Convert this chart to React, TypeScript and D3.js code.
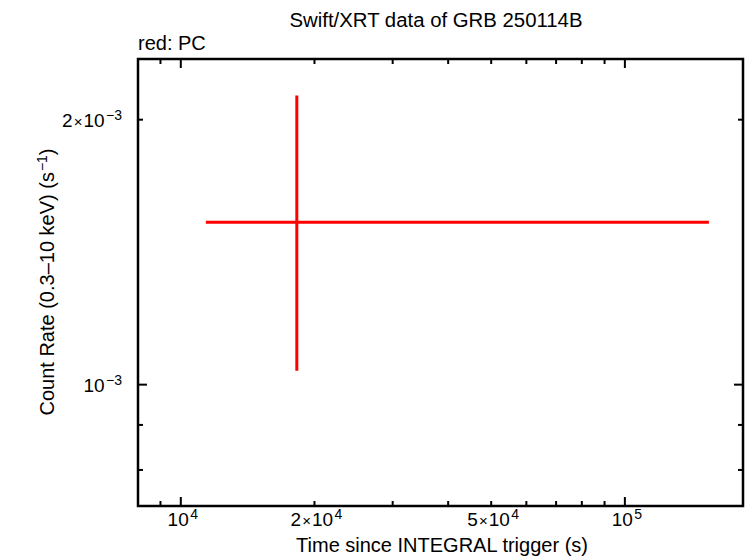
import React from "react";
import * as d3 from "d3";

const title = "Swift/XRT data of GRB 250114B";
const subtitle = "red: PC";
const xLabel = "Time since INTEGRAL trigger (s)";
const yLabel = "Count Rate (0.3\u201310 keV) (s";

// data point (PC mode)
const pcTime = [18250];
const pcTimeLo = [11385];
const pcTimeHi = [154600];
const pcRate = [1.529e-3];
const pcRateLo = [1.037e-3];
const pcRateHi = [2.13e-3];

const xDomain = [8010, 184500];
const yDomain = [7.28e-4, 2.344e-3];

const xMajor = [1e4, 1e5];
const xMinor = [9e3, 2e4, 3e4, 4e4, 5e4, 6e4, 7e4, 8e4, 9e4];
const xTickLabels = [
  { v: 1e4, m: "", e: "4" },
  { v: 2e4, m: "2", e: "4" },
  { v: 5e4, m: "5", e: "4" },
  { v: 1e5, m: "", e: "5" },
];
const yMajor = [1e-3];
const yMinor = [8e-4, 9e-4, 2e-3];
const yTickLabels = [
  { v: 2e-3, m: "2", e: "\u22123" },
  { v: 1e-3, m: "", e: "\u22123" },
];

const W = 746, H = 558;
const L = 138, R = 743, T = 59, B = 506;

function Pow({ m, e }: { m: string; e: string }) {
  return (
    <>
      {m ? <tspan>{m}</tspan> : null}
      {m ? <tspan dx={1} fontSize={15}>{"\u00d7"}</tspan> : null}
      <tspan dx={m ? 1 : 0}>10</tspan>
      <tspan fontSize={14} dx={1.5} dy={-7}>{e}</tspan>
    </>
  );
}

export default function App() {
  const x = d3.scaleLog().domain(xDomain).range([L, R]);
  const y = d3.scaleLog().domain(yDomain).range([B, T]);
  const font = "'Liberation Sans', Arial, sans-serif";
  const majLen = 9, minLen = 5;
  return (
    <svg width={W} height={H} style={{ position: "absolute", left: 0, top: 0 }} fontFamily={font}>
      <rect x={0} y={0} width={W} height={H} fill="white" />
      <text x={436} y={27} fontSize={20} textAnchor="middle" textLength={293} lengthAdjust="spacingAndGlyphs">{title}</text>
      <text x={138} y={50} fontSize={20}>{subtitle}</text>
      {/* x ticks */}
      {xMajor.map((v) => (
        <g key={"xM" + v}>
          <line x1={x(v)} x2={x(v)} y1={B} y2={B - majLen} stroke="black" strokeWidth={2} />
          <line x1={x(v)} x2={x(v)} y1={T} y2={T + majLen} stroke="black" strokeWidth={2} />
        </g>
      ))}
      {xMinor.map((v) => (
        <g key={"xm" + v}>
          <line x1={x(v)} x2={x(v)} y1={B} y2={B - minLen} stroke="black" strokeWidth={2} />
          <line x1={x(v)} x2={x(v)} y1={T} y2={T + minLen} stroke="black" strokeWidth={2} />
        </g>
      ))}
      {yMajor.map((v) => (
        <g key={"yM" + v}>
          <line x1={L} x2={L + majLen} y1={y(v)} y2={y(v)} stroke="black" strokeWidth={2} />
          <line x1={R} x2={R - majLen} y1={y(v)} y2={y(v)} stroke="black" strokeWidth={2} />
        </g>
      ))}
      {yMinor.map((v) => (
        <g key={"ym" + v}>
          <line x1={L} x2={L + minLen} y1={y(v)} y2={y(v)} stroke="black" strokeWidth={2} />
          <line x1={R} x2={R - minLen} y1={y(v)} y2={y(v)} stroke="black" strokeWidth={2} />
        </g>
      ))}
      {/* tick labels */}
      {xTickLabels.map((t) => (
        <text key={"xl" + t.v} x={x(t.v) + 2} y={526} fontSize={19} textAnchor="middle">
          <Pow m={t.m} e={t.e} />
        </text>
      ))}
      {yTickLabels.map((t) => (
        <text key={"yl" + t.v} x={122} y={y(t.v) + 7} fontSize={19} textAnchor="end">
          <Pow m={t.m} e={t.e} />
        </text>
      ))}
      {/* axis titles */}
      <text x={442} y={552} fontSize={20} textAnchor="middle">{xLabel}</text>
      <text transform={`translate(54,${282}) rotate(-90)`} fontSize={20} textAnchor="middle">
        {yLabel}<tspan fontSize={14} dx={1} dy={-7}>{"\u22121"}</tspan><tspan dy={7}>)</tspan>
      </text>
      {/* data */}
      {pcTime.map((t, i) => (
        <g key={"d" + i} stroke="#ff0000" strokeWidth={3}>
          <line x1={x(pcTimeLo[i])} x2={x(pcTimeHi[i])} y1={y(pcRate[i])} y2={y(pcRate[i])} />
          <line x1={x(t)} x2={x(t)} y1={y(pcRateLo[i])} y2={y(pcRateHi[i])} />
        </g>
      ))}
      {/* frame */}
      <rect x={L} y={T} width={R - L} height={B - T} fill="none" stroke="black" strokeWidth={2.5} />
    </svg>
  );
}
